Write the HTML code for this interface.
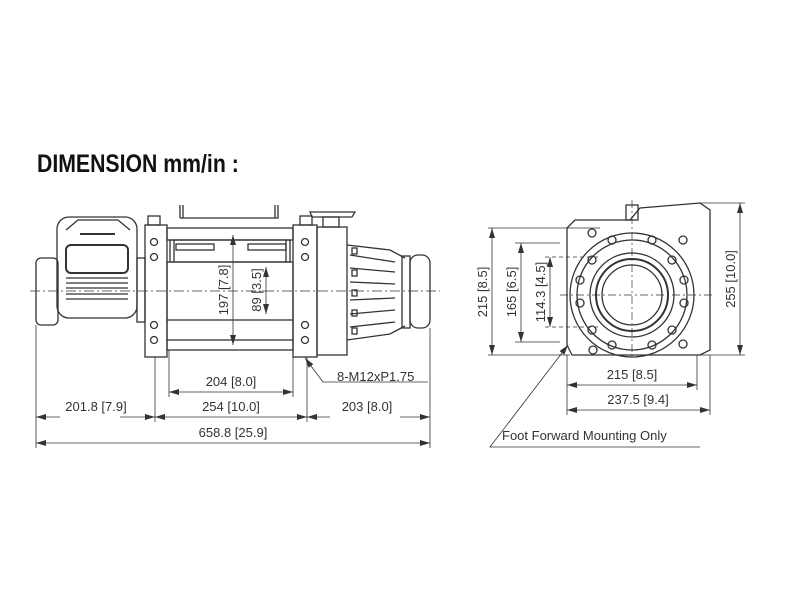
<!DOCTYPE html>
<html><head><style>html,body{margin:0;padding:0;background:#fff}svg{display:block}</style></head><body>
<svg width="800" height="600" viewBox="0 0 800 600" xmlns="http://www.w3.org/2000/svg" font-family="Liberation Sans, sans-serif">
<defs>
<marker id="a" markerWidth="10" markerHeight="6" refX="10" refY="3" orient="auto-start-reverse" markerUnits="userSpaceOnUse"><path d="M0,0 L10,3 L0,6 z" fill="#333"/></marker>
</defs>
<text x="37" y="172" font-size="25" font-weight="bold" fill="#111" transform="translate(37,0) scale(0.85,1) translate(-37,0)">DIMENSION mm/in :</text>
<g fill="none" stroke="#333" stroke-width="1.3">
<!-- left view -->
<rect x="36" y="258" width="22" height="67" rx="5"/>
<rect x="57" y="217" width="80" height="101" rx="12"/>
<path d="M66 230 L78 220 L118 220 L130 230"/>
<rect x="66" y="245" width="62" height="28" rx="5" stroke-width="2"/>
<line x1="66" y1="278" x2="128" y2="278"/><line x1="66" y1="283" x2="128" y2="283"/><line x1="66" y1="288" x2="128" y2="288"/><line x1="66" y1="294" x2="128" y2="294"/><line x1="66" y1="299" x2="128" y2="299"/>
<line x1="80" y1="234" x2="115" y2="234" stroke-width="2"/>
<rect x="137" y="258" width="8" height="64"/>
<rect x="145" y="225" width="22" height="132"/>
<rect x="167" y="228" width="126" height="12"/>
<rect x="170" y="240" width="120" height="22"/>
<rect x="176" y="244" width="38" height="6"/><rect x="248" y="244" width="38" height="6"/>
<line x1="174" y1="240" x2="174" y2="262"/><line x1="286" y1="240" x2="286" y2="262"/>
<rect x="167" y="262" width="126" height="58"/>
<rect x="167" y="340" width="126" height="10"/>
<line x1="167" y1="320" x2="167" y2="340"/><line x1="293" y1="320" x2="293" y2="340"/>
<rect x="293" y="225" width="24" height="132"/>
<circle cx="154" cy="242" r="3.5"/><circle cx="154" cy="257" r="3.5"/><circle cx="154" cy="325" r="3.5"/><circle cx="154" cy="340" r="3.5"/>
<circle cx="305" cy="242" r="3.5"/><circle cx="305" cy="257" r="3.5"/><circle cx="305" cy="325" r="3.5"/><circle cx="305" cy="340" r="3.5"/>
<path d="M180 218 V205 M180 218 L278 218 V205 M183 218 V205 M275 218 V205"/>
<rect x="148" y="216" width="12" height="9"/><rect x="300" y="216" width="12" height="9"/>
<rect x="317" y="227" width="30" height="128"/>
<path d="M310 212 L355 212 L352 217 L312 217 z"/>
<rect x="323" y="217" width="16" height="10"/>
<path d="M347 245 L390 250 L405 258 M347 340 L390 334 L405 326"/>
<path d="M350 255 L395 262 M350 268 L395 272 M350 282 L395 284 M350 300 L395 298 M350 314 L395 310 M350 327 L395 322"/>
<rect x="352" y="248" width="5" height="6"/><rect x="352" y="270" width="5" height="6"/><rect x="352" y="290" width="5" height="6"/><rect x="352" y="310" width="5" height="6"/><rect x="352" y="328" width="5" height="6"/>
<rect x="402" y="256" width="8" height="72"/>
<rect x="410" y="255" width="20" height="73" rx="8"/>
<line x1="30" y1="291" x2="440" y2="291" stroke-dasharray="10,3,2,3" stroke-width="0.7"/>
<!-- dims left -->
<g stroke-width="0.8">
<line x1="36" y1="325" x2="36" y2="448"/><line x1="155" y1="357" x2="155" y2="422"/><line x1="169" y1="350" x2="169" y2="397"/><line x1="293" y1="350" x2="293" y2="397"/><line x1="307" y1="357" x2="307" y2="422"/><line x1="430" y1="328" x2="430" y2="448"/>
<line x1="169" y1="392" x2="293" y2="392" marker-start="url(#a)" marker-end="url(#a)"/>
<line x1="155" y1="417" x2="307" y2="417" marker-start="url(#a)" marker-end="url(#a)"/>
<line x1="36" y1="417" x2="60" y2="417" marker-start="url(#a)"/><line x1="120" y1="417" x2="155" y2="417" marker-end="url(#a)"/>
<line x1="307" y1="417" x2="330" y2="417" marker-start="url(#a)"/><line x1="400" y1="417" x2="430" y2="417" marker-end="url(#a)"/>
<line x1="36" y1="443" x2="430" y2="443" marker-start="url(#a)" marker-end="url(#a)"/>
<line x1="233" y1="235" x2="233" y2="345" marker-start="url(#a)" marker-end="url(#a)"/>
<line x1="266" y1="267" x2="266" y2="314" marker-start="url(#a)" marker-end="url(#a)"/>
<path d="M305 358 L323 382 L428 382" marker-start="url(#a)"/>
</g>
<!-- right view -->
<path d="M567 228 L575 220 L630 220 L640 208 L700 203 L710 210 L710 350 L700 355 L572 355 L567 345 z"/>
<rect x="626" y="205" width="12" height="15"/>
<circle cx="632" cy="295" r="62"/>
<circle cx="632" cy="295" r="55"/>
<circle cx="632" cy="295" r="42"/>
<circle cx="632" cy="295" r="36" stroke-width="2"/>
<circle cx="632" cy="295" r="30"/>
<g>
<circle cx="592" cy="260" r="4"/><circle cx="612" cy="240" r="4"/><circle cx="652" cy="240" r="4"/><circle cx="672" cy="260" r="4"/>
<circle cx="580" cy="280" r="4"/><circle cx="580" cy="303" r="4"/><circle cx="684" cy="280" r="4"/><circle cx="684" cy="303" r="4"/>
<circle cx="592" cy="330" r="4"/><circle cx="612" cy="345" r="4"/><circle cx="652" cy="345" r="4"/><circle cx="672" cy="330" r="4"/>
<circle cx="592" cy="233" r="4"/><circle cx="683" cy="240" r="4"/><circle cx="683" cy="344" r="4"/><circle cx="593" cy="350" r="4"/>
</g>
<line x1="632" y1="200" x2="632" y2="360" stroke-dasharray="8,3,2,3" stroke-width="0.7"/>
<line x1="560" y1="295" x2="715" y2="295" stroke-dasharray="8,3,2,3" stroke-width="0.7"/>
<g stroke-width="0.8">
<line x1="488" y1="228" x2="600" y2="228"/><line x1="488" y1="355" x2="570" y2="355"/><line x1="515" y1="243" x2="560" y2="243"/><line x1="515" y1="342" x2="560" y2="342"/>
<line x1="545" y1="257" x2="600" y2="257" stroke-dasharray="4,3"/><line x1="545" y1="327" x2="600" y2="327" stroke-dasharray="4,3"/>
<line x1="700" y1="203" x2="745" y2="203"/><line x1="700" y1="355" x2="745" y2="355"/>
<line x1="492" y1="228" x2="492" y2="355" marker-start="url(#a)" marker-end="url(#a)"/>
<line x1="521" y1="243" x2="521" y2="342" marker-start="url(#a)" marker-end="url(#a)"/>
<line x1="550" y1="257" x2="550" y2="327" marker-start="url(#a)" marker-end="url(#a)"/>
<line x1="740" y1="203" x2="740" y2="355" marker-start="url(#a)" marker-end="url(#a)"/>
<line x1="567" y1="355" x2="567" y2="415"/><line x1="697" y1="355" x2="697" y2="390"/><line x1="710" y1="355" x2="710" y2="415"/>
<line x1="567" y1="385" x2="697" y2="385" marker-start="url(#a)" marker-end="url(#a)"/>
<line x1="567" y1="410" x2="710" y2="410" marker-start="url(#a)" marker-end="url(#a)"/>
<path d="M568 345 L490 447 L700 447" marker-start="url(#a)"/>
</g>
</g>
<g fill="#333" font-size="13">
<text x="231" y="386" text-anchor="middle">204 [8.0]</text>
<text x="231" y="411" text-anchor="middle">254 [10.0]</text>
<text x="96" y="411" text-anchor="middle">201.8 [7.9]</text>
<text x="367" y="411" text-anchor="middle">203 [8.0]</text>
<text x="233" y="437" text-anchor="middle">658.8 [25.9]</text>
<text x="337" y="381">8-M12xP1.75</text>
<text transform="translate(228,290) rotate(-90)" text-anchor="middle">197 [7.8]</text>
<text transform="translate(261,290) rotate(-90)" text-anchor="middle">89 [3.5]</text>
<text transform="translate(487,292) rotate(-90)" text-anchor="middle">215 [8.5]</text>
<text transform="translate(516,292) rotate(-90)" text-anchor="middle">165 [6.5]</text>
<text transform="translate(545,292) rotate(-90)" text-anchor="middle">114.3 [4.5]</text>
<text transform="translate(735,279) rotate(-90)" text-anchor="middle">255 [10.0]</text>
<text x="632" y="379" text-anchor="middle">215 [8.5]</text>
<text x="638" y="404" text-anchor="middle">237.5 [9.4]</text>
<text x="502" y="440">Foot Forward Mounting Only</text>
</g>
</svg>
</body></html>
